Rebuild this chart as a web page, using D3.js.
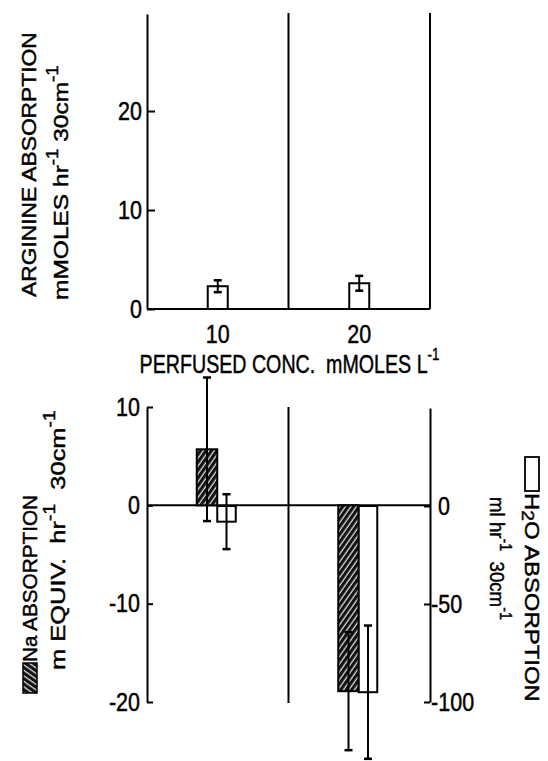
<!DOCTYPE html>
<html lang="en">

<head>
  <meta charset="UTF-8" />
  <title>Arginine, Na and H2O absorption</title>
  <style>
    body {
      margin: 0;
      background: #fff;
    }

    svg text {
      font-family: "Liberation Sans", Arial, sans-serif;
      fill: #000;
      stroke: #000;
      stroke-width: 0.45px;
      white-space: pre;
    }

    .frame {
      stroke: #000;
      stroke-width: 2px;
    }
  </style>
</head>

<body>

  <script src="https://cdn.jsdelivr.net/npm/d3@7/dist/d3.min.js"></script>
  <script>
    var w = 548;
    var h = 761;

    // perfused concentration, mMoles/L
    var doses = ["10", "20"];

    // top panel: arginine absorption
    var arginine = [2.3, 2.6];
    var arginineErr = [0.6, 0.75];
    var argTicks = [0, 10, 20];

    // bottom panel: Na (left axis) and H2O (right axis)
    var sodium = [5.7, -18.9];
    var sodiumErr = [7.3, 6.0];
    var water = [-8, -95];
    var waterErr = [14, 34];
    var naTicks = [10, 0, -10, -20];
    var waterTicks = [0, -50, -100];

    var condense = 0.86;

    var svg = d3.select("body")
      .append("svg")
      .attr("width", w)
      .attr("height", h);

    var defs = svg.append("defs");
    var hatch = defs.append("pattern")
      .attr("id", "hatch")
      .attr("patternUnits", "userSpaceOnUse")
      .attr("width", 4.5)
      .attr("height", 4.5)
      .attr("patternTransform", "rotate(35)");
    hatch.append("rect")
      .attr("width", 4.5)
      .attr("height", 4.5)
      .attr("fill", "#111");
    hatch.append("line")
      .attr("x1", 2).attr("x2", 2)
      .attr("y1", 0).attr("y2", 4.5)
      .attr("stroke", "#fff")
      .attr("stroke-width", 1.1);

    var xScale = d3.scaleBand()
      .domain(doses)
      .range([147, 430]);

    var half = xScale.bandwidth() / 2;

    // ---------- top panel ----------
    var yArg = d3.scaleLinear()
      .domain([0, 29.8])
      .range([309, 14]);

    var argAxis = d3.axisLeft(yArg)
      .tickValues(argTicks)
      .tickSizeInner(-8)
      .tickSizeOuter(0)
      .tickPadding(5)
      .tickFormat(function(d) { return String(d); });

    var gArg = svg.append("g")
      .attr("transform", "translate(" + xScale.range()[0] + ",0)")
      .call(argAxis);

    // baseline and the two other verticals
    svg.append("line")
      .attr("class", "frame")
      .attr("x1", xScale.range()[0])
      .attr("x2", xScale.range()[1])
      .attr("y1", yArg(0))
      .attr("y2", yArg(0));

    svg.selectAll(".argsep")
      .data([xScale("20"), xScale.range()[1]])
      .enter()
      .append("line")
      .attr("class", "frame")
      .attr("x1", function(d) { return d; })
      .attr("x2", function(d) { return d; })
      .attr("y1", yArg(0))
      .attr("y2", yArg.range()[1] - 1);

    var argBarW = 20;
    svg.selectAll(".argbar")
      .data(doses)
      .enter()
      .append("rect")
      .attr("class", "frame")
      .attr("fill", "#fff")
      .attr("x", function(d) { return xScale(d) + half - argBarW / 2; })
      .attr("width", argBarW)
      .attr("y", function(d, i) { return yArg(arginine[i]); })
      .attr("height", function(d, i) { return yArg(0) - yArg(arginine[i]); });

    drawErr(doses.map(function(d, i) {
      return { x: xScale(d) + half, hi: yArg(arginine[i] + arginineErr[i]), lo: yArg(arginine[i] - arginineErr[i]) };
    }));

    // dose labels
    svg.selectAll(".dose")
      .data(doses)
      .enter()
      .append("text")
      .attr("transform", function(d) {
        return "translate(" + (xScale(d) + half) + ",343) scale(" + condense + ",1)";
      })
      .attr("text-anchor", "middle")
      .attr("font-size", 25)
      .text(function(d) { return d; });

    var xTitle = svg.append("text")
      .attr("text-anchor", "middle")
      .attr("font-size", 25);
    xTitle.append("tspan").text("PERFUSED CONC.  mMOLES L");
    xTitle.append("tspan").attr("font-size", 17).attr("dy", -13).text("-1");
    fit(xTitle, "translate(" + (xScale("20") + 1) + ",373)", 300);

    // ---------- bottom panel ----------
    var yNa = d3.scaleLinear()
      .domain([-20, 10])
      .range([702, 407]);

    var yWater = d3.scaleLinear()
      .domain([-100, 50])
      .range([702, 408]);

    var naAxis = d3.axisLeft(yNa)
      .tickValues(naTicks)
      .tickSizeInner(-6)
      .tickSizeOuter(0)
      .tickPadding(7)
      .tickFormat(function(d) { return String(d); });

    var gNa = svg.append("g")
      .attr("transform", "translate(" + xScale.range()[0] + ",0)")
      .call(naAxis);

    var waterAxis = d3.axisRight(yWater)
      .tickValues(waterTicks)
      .tickSizeInner(-6)
      .tickSizeOuter(0)
      .tickPadding(8)
      .tickFormat(function(d) { return String(d); });

    var gWater = svg.append("g")
      .attr("transform", "translate(" + xScale.range()[1] + ",0)")
      .call(waterAxis);

    [gArg, gNa, gWater].forEach(function(g) {
      g.attr("font-family", null).attr("font-size", 25);
      g.select(".domain").attr("stroke-width", 2);
      g.selectAll(".tick line").attr("stroke-width", 2);
      // narrow the tick labels around their own anchor
      g.selectAll(".tick text").each(function() {
        var t = d3.select(this);
        var x = +t.attr("x");
        t.attr("x", x / condense).attr("transform", "scale(" + condense + ",1)");
      });
    });

    // hyphen sits against the axis, digits line up
    gWater.selectAll(".tick text")
      .attr("dx", function(d) { return d < 0 ? -8 : 0; });

    svg.append("line")
      .attr("class", "frame")
      .attr("x1", xScale.range()[0])
      .attr("x2", xScale.range()[1])
      .attr("y1", yNa(0))
      .attr("y2", yNa(0));

    svg.append("line")
      .attr("class", "frame")
      .attr("x1", xScale("20"))
      .attr("x2", xScale("20"))
      .attr("y1", yNa(10))
      .attr("y2", yNa(-20) + 1);

    var sub = d3.scaleBand()
      .domain(["na", "water"])
      .range([-21, 20]);

    svg.selectAll(".nabar")
      .data(doses)
      .enter()
      .append("rect")
      .attr("class", "frame")
      .attr("fill", "url(#hatch)")
      .attr("x", function(d) { return xScale(d) + half + sub("na"); })
      .attr("width", sub.bandwidth())
      .attr("y", function(d, i) { return Math.min(yNa(0), yNa(sodium[i])); })
      .attr("height", function(d, i) { return Math.abs(yNa(sodium[i]) - yNa(0)); });

    svg.selectAll(".waterbar")
      .data(doses)
      .enter()
      .append("rect")
      .attr("class", "frame")
      .attr("fill", "#fff")
      .attr("x", function(d) { return xScale(d) + half + sub("water"); })
      .attr("width", sub.bandwidth() - 2)
      .attr("y", function(d, i) { return Math.min(yWater(0), yWater(water[i])); })
      .attr("height", function(d, i) { return Math.abs(yWater(water[i]) - yWater(0)); });

    drawErr(doses.map(function(d, i) {
      return { x: xScale(d) + half + sub("na") + sub.bandwidth() / 2, hi: yNa(sodium[i] + sodiumErr[i]), lo: yNa(sodium[i] - sodiumErr[i]) };
    }));
    drawErr(doses.map(function(d, i) {
      return { x: xScale(d) + half + sub("water") + sub.bandwidth() / 2 - 1, hi: yWater(water[i] + waterErr[i]), lo: yWater(water[i] - waterErr[i]) };
    }));

    // ---------- axis titles ----------
    var t1 = svg.append("text").attr("font-size", 21).text("ARGININE ABSORPTION");
    fit(t1, "translate(36,297) rotate(-90)", 265);

    var t2 = svg.append("text").attr("font-size", 21);
    supText(t2, [["mMOLES hr", false], ["-1", true], [" 30cm", false], ["-1", true]]);
    fit(t2, "translate(68,300) rotate(-90)", 235);

    var naTitle = svg.append("g")
      .attr("transform", "translate(37,693) rotate(-90)");
    naTitle.append("rect")
      .attr("x", 0).attr("y", -14)
      .attr("width", 30).attr("height", 14)
      .attr("fill", "url(#hatch)")
      .attr("stroke", "#000")
      .attr("stroke-width", 1.5);
    var t3 = naTitle.append("text")
      .attr("font-size", 21)
      .text("Na ABSORPTION");
    fit(t3, "translate(31,0)", 167);

    var t4 = svg.append("text").attr("font-size", 21);
    supText(t4, [["m EQUIV.  hr", false], ["-1", true], ["  30cm", false], ["-1", true]]);
    fit(t4, "translate(65,670) rotate(-90)", 260);

    var waterTitle = svg.append("g")
      .attr("transform", "translate(525,457) rotate(90)");
    waterTitle.append("rect")
      .attr("x", 0).attr("y", -14)
      .attr("width", 34).attr("height", 14)
      .attr("fill", "#fff")
      .attr("stroke", "#000")
      .attr("stroke-width", 1.8);
    var t5 = waterTitle.append("text")
      .attr("font-size", 21);
    t5.append("tspan").text("H");
    t5.append("tspan").attr("font-size", 17).attr("dy", 3).text("2");
    t5.append("tspan").attr("dy", -3).text("O ABSORPTION");
    fit(t5, "translate(36,0)", 209);

    var t6 = svg.append("text").attr("font-size", 21);
    supText(t6, [["ml hr", false], ["-1", true], ["  30cm", false], ["-1", true]]);
    fit(t6, "translate(490,497) rotate(90)", 123);

    // squeeze a text horizontally (in its own frame) to a measured length
    function fit(sel, base, len) {
      var bw = sel.node().getBBox().width;
      sel.attr("transform", base + " scale(" + (len / bw) + ",1)");
    }

    function supText(sel, parts) {
      var up = false;
      parts.forEach(function(p) {
        var ts = sel.append("tspan").text(p[0]);
        if (p[1]) {
          ts.attr("font-size", 16).attr("dy", -10);
          up = true;
        } else if (up) {
          ts.attr("dy", 10);
          up = false;
        }
      });
    }

    function drawErr(rows) {
      var g = svg.append("g")
        .attr("stroke", "#000")
        .attr("stroke-width", 2);
      rows.forEach(function(r) {
        g.append("line")
          .attr("x1", r.x).attr("x2", r.x)
          .attr("y1", r.hi).attr("y2", r.lo);
        [r.hi, r.lo].forEach(function(y) {
          g.append("line")
            .attr("x1", r.x - 4).attr("x2", r.x + 4)
            .attr("y1", y).attr("y2", y)
            .attr("stroke-width", 2.5);
        });
      });
    }
  </script>

</body>

</html>
